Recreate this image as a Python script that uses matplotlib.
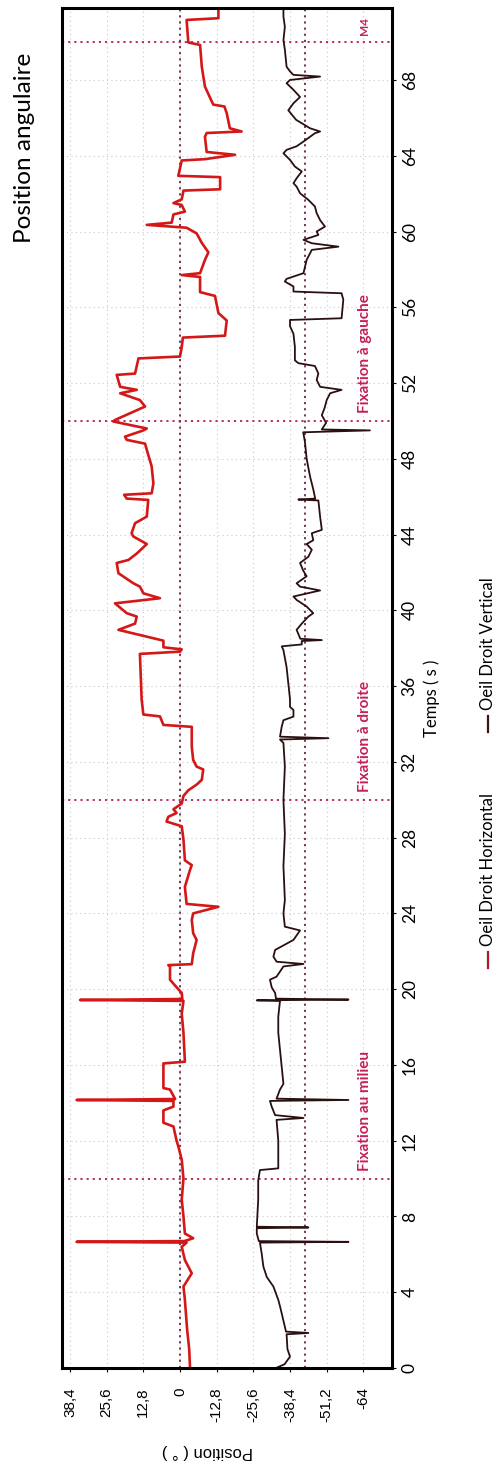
import matplotlib
matplotlib.use('Agg')
from matplotlib import pyplot as plt
from matplotlib.lines import Line2D

# time (s) / angle (deg) breakpoints
red_t = [0.0, 1.0, 2.0, 3.0, 3.6, 4.3, 5.0, 5.7, 6.4, 6.62, 6.66, 6.70, 6.85, 7.1, 8.0, 8.9, 10.0,
         11.0, 11.7, 12.0, 12.75, 12.95, 13.6, 13.8, 14.1, 14.15, 14.2, 14.7, 14.78, 16.08, 16.17,
         17.7, 18.7, 19.38, 19.43, 19.48, 19.8, 20.1, 20.5, 21.2, 21.27, 21.32, 21.9, 22.6, 22.95,
         23.65, 24.0, 24.35, 24.5, 25.4, 26.3, 26.55, 26.8, 27.9, 28.6, 28.85, 29.1, 29.3, 29.5,
         29.8, 30.2, 30.5, 30.8, 31.05, 31.6, 31.75, 32.1, 32.8, 33.85, 33.95, 34.4, 34.5, 35.3,
         37.7, 37.82, 37.94, 38.05, 38.4, 38.97, 39.3, 39.67, 39.85, 40.37, 40.64, 40.9, 41.25,
         41.43, 41.96, 42.5, 42.66, 43.0, 43.5, 43.9, 44.07, 44.6, 44.95, 45.83, 45.9, 46.1,
         46.18, 46.7, 47.6, 48.47, 48.8, 49.0, 49.17, 49.5, 49.6, 49.97, 50.05, 50.76, 51.1,
         51.46, 51.64, 51.8, 52.43, 52.5, 53.3, 53.4, 53.9, 54.4, 54.5, 55.3, 55.7, 56.6, 56.8,
         57.6, 57.7, 57.8, 58.5, 58.9, 59.4, 59.9, 60.2, 60.35, 60.47, 60.9, 61.05, 61.4, 61.5,
         61.7, 62.16, 62.23, 62.87, 62.94, 63.75, 63.82, 64.05, 64.2, 65.0, 65.2, 65.28, 65.45,
         66.25, 66.6, 66.7, 67.65, 68.7, 69.85, 69.98, 71.17, 71.26, 71.8]
red_v = [-3.5, -3.2, -2.5, -2.0, -1.7, -1.2, -4.1, -1.7, -0.6, -2.3, 36.1, -1.5, -4.6, -1.7, -1.2, -0.6, -1.2,
         -0.6, 0.6, 1.2, 2.3, 5.8, 5.8, 2.3, 2.3, 36.1, 1.7, 3.5, 5.8, 5.8, -1.7,
         -1.2, -0.6, -1.2, 34.9, -0.8, -0.6, 1.2, 3.5, 3.5, 4.1, -4.1, -4.6, -5.8, -4.6,
         -4.1, -4.6, -13.4, -2.3, -1.7, -3.5, -4.1, -1.7, -1.2, -0.6, 4.7, 4.1, 1.2, 2.3,
         -0.6, -1.2, -2.9, -5.8, -7.6, -8.1, -5.8, -4.6, -4.1, -4.1, 5.8, 7.0, 12.8, 13.4,
         14.0, 0.0, -0.6, 5.8, 5.8, 21.5, 15.7, 15.1, 18.6, 22.7, 7.0, 12.8, 14.0,
         16.3, 21.5, 22.1, 18.0, 15.1, 11.6, 16.3, 16.9, 15.7, 11.6, 11.1, 18.6, 19.5,
         9.9, 9.3, 9.9, 11.6, 12.2, 18.6, 19.2, 12.8, 11.6, 23.3, 22.7, 12.2, 14.0,
         20.9, 15.1, 20.9, 22.1, 15.7, 14.5, 0.0, -0.6, -1.0, -15.7, -16.3, -13.4, -12.2, -7.0,
         -7.0, -0.6, -7.0, -8.7, -9.9, -7.6, -5.8, -2.3, 11.6, 2.9, 2.3, -1.7, -0.6, 2.3,
         -0.6, -1.2, -14.0, -14.0, 0.6, -0.6, -8.7, -19.2, -9.3, -8.7, -9.3, -21.5, -17.4,
         -16.3, -15.5, -11.6, -8.7, -7.6, -7.0, -2.9, -2.3, -13.4, -13.4]

dark_t = [0.0, 0.2, 0.6, 1.0, 1.78, 1.85, 1.92, 2.5, 3.2, 3.6, 4.3, 4.8, 5.35, 6.05, 6.62, 6.66, 6.70,
          7.1, 7.38, 7.42, 7.46, 8.9, 9.9, 10.45, 10.54, 12.0, 13.1, 13.2, 13.35, 13.8, 14.1, 14.15,
          14.22, 14.7, 15.0, 15.9, 16.8, 17.7, 18.55, 19.38, 19.41, 19.45, 19.5, 19.8, 20.1, 20.5,
          20.66, 21.2, 21.33, 21.45, 21.72, 22.07, 22.6, 23.1, 23.3, 24.0, 24.7, 26.5, 28.2, 30.0,
          31.75, 33.0, 33.18, 33.25, 33.33, 33.86, 34.2, 34.39, 34.74, 34.9, 35.3, 37.0, 37.9, 38.1,
          38.2, 38.38, 38.43, 38.5, 38.97, 39.3, 39.67, 39.85, 40.2, 40.55, 40.73, 41.05, 41.25,
          41.43, 41.8, 42.1, 42.5, 42.83, 43.2, 43.5, 43.7, 44.07, 44.25, 44.95, 45.8, 45.85, 45.9,
          46.4, 47.06, 48.0, 48.9, 49.4, 49.5, 49.55, 49.9, 50.3, 50.7, 51.1, 51.46, 51.64, 51.8,
          52.17, 52.5, 52.9, 53.05, 53.2, 53.9, 54.6, 55.0, 55.33, 55.42, 56.4, 56.74, 56.83, 57.1,
          57.36, 57.5, 57.8, 58.5, 59.03, 59.2, 59.38, 59.56, 59.82, 60.0, 60.26, 60.6, 60.97,
          61.32, 61.67, 62.02, 62.37, 62.55, 62.81, 63.17, 63.43, 63.78, 64.13, 64.31, 64.5, 64.75,
          65.19, 65.28, 65.45, 65.9, 66.4, 66.77, 67.1, 67.48, 67.83, 68.0, 68.18, 68.27, 68.45,
          68.7, 69.6, 70.1, 70.8, 71.35, 71.8]
dark_v = [-33.5, -36.5, -38.4, -37.5, -37.2, -44.8, -37.0, -36.1, -35.0, -34.3, -32.6, -30.3, -29.1, -28.5, -27.9, -58.8, -27.5,
          -26.8, -26.8, -44.8, -26.8, -27.3, -27.3, -27.9, -34.3, -34.3, -33.7, -43.1, -33.2, -32.0, -31.4, -58.8,
          -33.7, -34.9, -36.1, -35.5, -34.9, -34.3, -34.3, -34.9, -26.8, -58.8, -33.5, -33.2, -32.0, -31.4,
          -33.7, -36.1, -43.1, -33.7, -32.6, -33.2, -39.6, -41.9, -36.6, -36.1, -36.6, -36.1, -36.6, -36.1,
          -36.6, -36.1, -34.9, -51.8, -34.9, -35.5, -36.1, -39.6, -39.6, -38.4, -38.4, -37.2, -36.1, -35.5,
          -42.5, -42.5, -49.5, -42.0, -40.7, -42.5, -44.8, -46.5, -44.2, -40.7, -39.6, -48.9, -41.9,
          -40.7, -44.2, -43.0, -41.9, -44.8, -46.0, -44.2, -46.5, -46.0, -49.5, -48.9, -48.3, -41.3, -47.2,
          -46.5, -45.4, -44.2, -43.6, -43.0, -66.3, -49.5, -51.0, -49.5, -50.5, -51.2, -52.4, -56.4, -48.9,
          -47.7, -48.3, -47.1, -41.3, -40.1, -40.1, -39.6, -38.4, -38.4, -56.4, -57.0, -56.4, -39.6, -39.6,
          -36.6, -37.2, -43.1, -44.2, -46.0, -55.3, -46.0, -43.1, -48.3, -47.7, -50.6, -48.9, -47.7,
          -47.1, -44.8, -41.9, -40.7, -39.6, -40.7, -42.5, -40.1, -38.4, -36.1, -37.2, -40.7, -43.1,
          -47.1, -48.9, -45.4, -40.5, -37.8, -39.6, -41.9, -39.6, -37.2, -38.4, -48.9, -39.6, -38.4,
          -37.2, -36.6, -36.1, -36.6, -36.1, -36.1]

pos_ticks = [38.4, 25.6, 12.8, 0, -12.8, -25.6, -38.4, -51.2, -64]
time_ticks = list(range(0, 69, 4))
marks_t = [0, 10, 30, 50, 70]
phases = [(10, 'Fixation au milieu'), (30, 'Fixation à droite'), (50, 'Fixation à gauche'), (70, 'M4')]
ref_v = [0, -43.5]

W, H = 501, 1468
fig = plt.figure(figsize=(W / 100, H / 100), dpi=100)
fig.patch.set_facecolor('white')

# chart is drawn turned a quarter turn: time runs upwards, angle runs right-to-left
ax = fig.add_axes([62 / W, 1 - 1368 / H, 330 / W, 1360 / H])
ax.set_xlim(41.2, -74.0)
ax.set_ylim(0, 71.8)

ax.grid(True, color='#c9c9c9', ls=(0, (1, 3)), lw=0.8)
for t in marks_t:
    ax.axhline(t, color='#b0205a', ls=(0, (1.2, 2.2)), lw=1.3, clip_on=False)
for v in ref_v:
    ax.axvline(v, color='#6a2848', ls=(0, (1.2, 2.2)), lw=1.3)

ax.plot(dark_v, dark_t, color='#2a1010', lw=1.3, label='Oeil Droit Vertical')
ax.plot(red_v, red_t, color='#d41818', lw=1.9, label='Oeil Droit Horizontal')

for t, txt in phases:
    ax.text(-64.5, t + 0.4, txt, rotation=90, ha='center', va='bottom', color='#c4205c',
            fontsize=11 if txt != 'M4' else 8.5, fontweight='bold', family='Lato')

for s in ax.spines.values():
    s.set_linewidth(2.2)
    s.set_color('black')

ax.set_xticks(pos_ticks, labels=[('%g' % v).replace('.', ',') for v in pos_ticks])
ax.yaxis.tick_right()
ax.set_yticks(time_ticks, labels=[str(t) for t in time_ticks])
ax.tick_params(axis='x', length=3, pad=11, labelsize=11, labelrotation=90)
ax.tick_params(axis='y', length=3, pad=4, labelsize=12.5, labelrotation=90)
for lab in ax.get_xticklabels():
    lab.set_family('Liberation Sans')
for lab in ax.get_yticklabels():
    lab.set_family('Lato')
    lab.set_va('center')

fig.text(25 / W, 1 - 243 / H, 'Position angulaire', rotation=90, ha='center', va='bottom',
         fontsize=17.5, family='Lato')
fig.text(432 / W, 1 - 698 / H, 'Temps ( s )', rotation=90, ha='center', va='center',
         fontsize=12, family='Lato')
fig.text(207 / W, 1 - 1452 / H, 'Position ( ° )', rotation=180, ha='center', va='center',
         fontsize=12, family='Liberation Sans')

# legend, turned like the rest
for y0, col, txt in [(960, '#b01828', 'Oeil Droit Horizontal'), (724, '#3a1515', 'Oeil Droit Vertical')]:
    fig.add_artist(Line2D([488 / W, 488 / W], [1 - (y0 + 8) / H, 1 - (y0 - 8) / H],
                          transform=fig.transFigure, color=col, lw=1.6))
    fig.text(488 / W, 1 - (y0 - 14) / H, txt, rotation=90, ha='center', va='bottom',
             fontsize=12, family='Lato')

fig.savefig('out.png', dpi=100)
